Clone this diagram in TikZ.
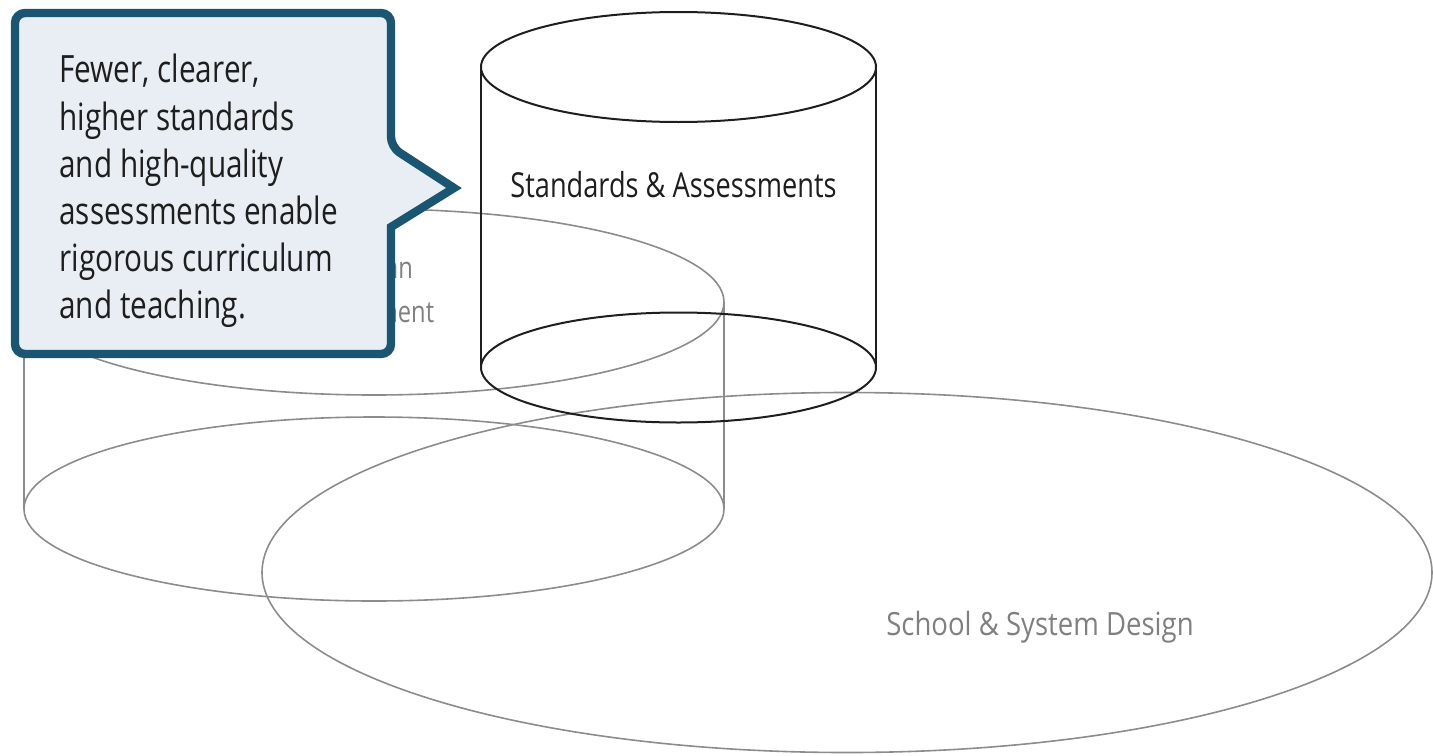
\documentclass[tikz,border=0pt]{standalone}
\usepackage{fontspec}
\usetikzlibrary{calc}
\setmainfont{Open Sans}[FakeStretch=0.79]
\newfontfamily\widerfont{Open Sans}[FakeStretch=0.86]
\definecolor{calloutblue}{RGB}{26,86,114}
\definecolor{calloutfill}{RGB}{232,238,244}
\definecolor{shapegray}{RGB}{140,140,140}
\definecolor{textgray}{RGB}{128,128,128}
\definecolor{inkblack}{RGB}{30,30,30}
\tikzset{
  grayline/.style={draw=shapegray, line width=0.8pt},
  blackline/.style={draw=inkblack, line width=1pt},
  calloutshape/.style={draw=calloutblue, fill=calloutfill, line width=4.2pt, line join=miter},
  labeltext/.style={inner sep=0pt, text=inkblack},
  graylabel/.style={inner sep=0pt, text=textgray},
}
\begin{document}
\begin{tikzpicture}[x=0.5pt, y=-0.5pt]
\useasboundingbox (0,0) rectangle (1433,755);
% big ellipse: School & System Design
\draw[grayline] (847,572.5) ellipse [x radius=585, y radius=180];
\node[graylabel, anchor=base, font=\widerfont\fontsize{16}{18}\selectfont] (school) at (1040,635) {School \& System Design};
% gray cylinder
\coordinate (gtop) at (374,302);
\coordinate (gbot) at (374,509);
\coordinate (gtl) at (24,302);
\coordinate (gtr) at (724,302);
\coordinate (gbl) at (24,509);
\coordinate (gbr) at (724,509);
\draw[grayline] (gtop) ellipse [x radius=350, y radius=93];
\draw[grayline] (gbot) ellipse [x radius=350, y radius=92];
\draw[grayline] (gtl) -- (gbl);
\draw[grayline] (gtr) -- (gbr);
\node[graylabel, anchor=north, align=center, font=\fontsize{15}{22}\selectfont] (hidden) at (372,257) {Human\\Investment};
% black cylinder
\coordinate (btop) at (678.5,67);
\coordinate (bbot) at (678.5,367.5);
\coordinate (btl) at (481,67);
\coordinate (btr) at (876,67);
\coordinate (bbl) at (481,367.5);
\coordinate (bbr) at (876,367.5);
\draw[blackline] (btop) ellipse [x radius=197.5, y radius=55];
\draw[blackline] (bbot) ellipse [x radius=197.5, y radius=55];
\draw[blackline] (btl) -- (bbl);
\draw[blackline] (btr) -- (bbr);
\node[labeltext, anchor=base, font=\fontsize{17.2}{20}\selectfont] (stdlabel) at (673.5,197) {Standards \& Assessments};
% callout
\path[calloutshape, rounded corners=5pt] (200,13) -- (391,13) -- (391,147) [sharp corners] -- (454,188) -- (391,227) [rounded corners=5pt] -- (391,354) -- (15,354) -- (15,13) -- cycle;
\node[labeltext, anchor=north west, align=left, font=\fontsize{18.8}{23.6}\selectfont] (callouttext) at (59,54) {Fewer, clearer,\\higher standards\\and high-quality\\assessments enable\\rigorous curriculum\\and teaching.};
\end{tikzpicture}
\end{document}
